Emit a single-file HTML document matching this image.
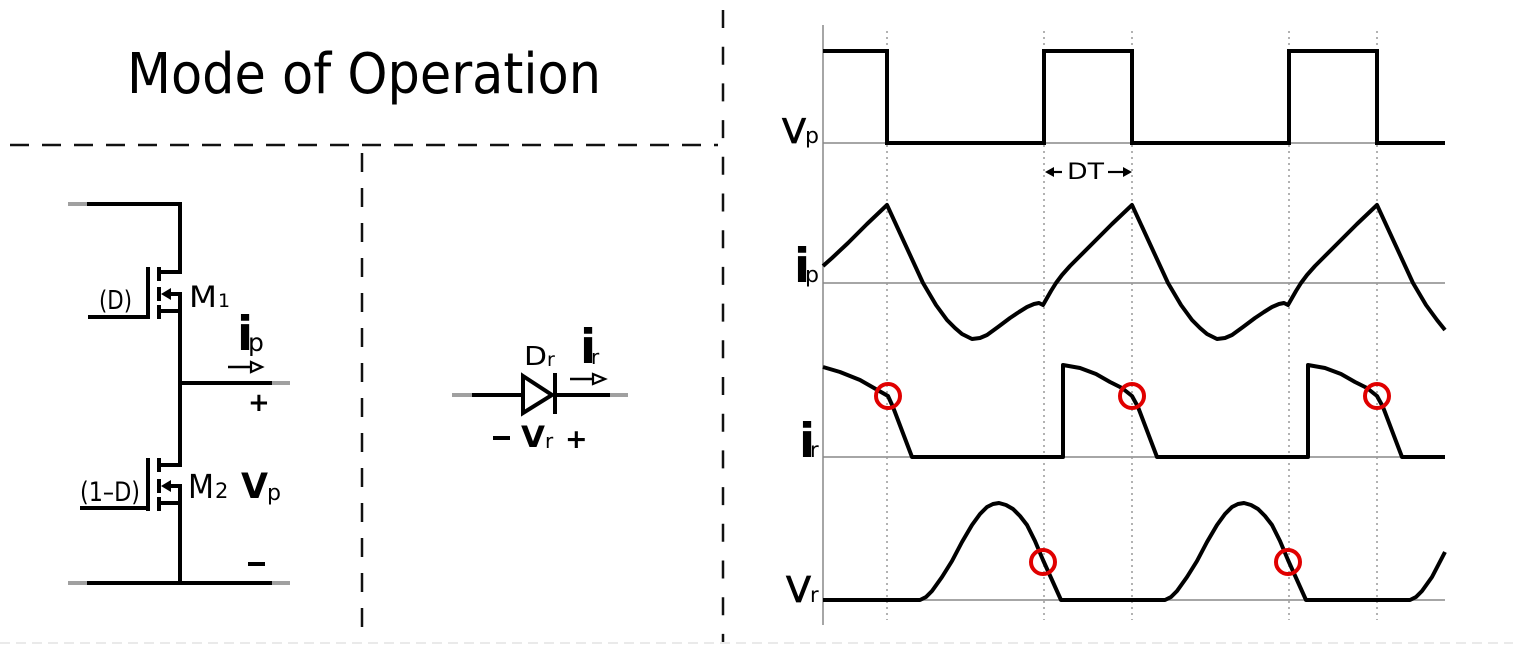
<!DOCTYPE html>
<html><head><meta charset="utf-8"><style>
html,body{margin:0;padding:0;background:#fff;}
svg{display:block;}
text{font-family:"DejaVu Sans","Liberation Sans",sans-serif;fill:#000;}
</style></head><body>
<svg width="1513" height="647" viewBox="0 0 1513 647" xmlns="http://www.w3.org/2000/svg">
<rect width="1513" height="647" fill="#fff"/>

<!-- Title -->
<text x="127" y="93" font-size="56" textLength="474" lengthAdjust="spacingAndGlyphs">Mode of Operation</text>

<!-- dashed separators -->
<line x1="10" y1="145" x2="718" y2="145" stroke="#111" stroke-width="2.5" stroke-dasharray="19 13"/>
<line x1="723" y1="10" x2="723" y2="642" stroke="#111" stroke-width="2.5" stroke-dasharray="18 18.7"/>
<line x1="362" y1="153" x2="362" y2="642" stroke="#111" stroke-width="2.5" stroke-dasharray="19 16"/>
<line x1="0" y1="643" x2="1513" y2="643" stroke="#e4e4e4" stroke-width="1.5" stroke-dasharray="10 6"/>

<!-- Circuit: MOSFETs -->
<g stroke="#000" stroke-width="4" fill="none" stroke-linecap="butt">
  <polyline points="87,204 180,204 180,272 159,272"/>
  <line x1="159" y1="267" x2="159" y2="281"/>
  <line x1="159" y1="287" x2="159" y2="301"/>
  <line x1="159" y1="305" x2="159" y2="319"/>
  <line x1="148" y1="267" x2="148" y2="319"/>
  <line x1="88" y1="317" x2="150" y2="317"/>
  <line x1="166" y1="294" x2="180" y2="294"/>
  <line x1="157" y1="311" x2="182" y2="311"/>
  <line x1="180" y1="292" x2="180" y2="467"/>
  <line x1="180" y1="465" x2="157" y2="465"/>
  <line x1="180" y1="383" x2="272" y2="383"/>
  <line x1="159" y1="458" x2="159" y2="472"/>
  <line x1="159" y1="479" x2="159" y2="493"/>
  <line x1="159" y1="497" x2="159" y2="511"/>
  <line x1="148" y1="458" x2="148" y2="511"/>
  <line x1="80" y1="508" x2="150" y2="508"/>
  <line x1="166" y1="486" x2="180" y2="486"/>
  <line x1="157" y1="503" x2="182" y2="503"/>
  <line x1="180" y1="484" x2="180" y2="583"/>
  <line x1="87" y1="583" x2="272" y2="583"/>
</g>
<polygon points="161,294 171,288 171,300" fill="#000"/>
<polygon points="161,486 171,480 171,492" fill="#000"/>
<g stroke="#a0a0a0" stroke-width="4">
  <line x1="68" y1="204" x2="87" y2="204"/>
  <line x1="272" y1="383" x2="290" y2="383"/>
  <line x1="68" y1="583" x2="87" y2="583"/>
  <line x1="272" y1="583" x2="290" y2="583"/>
  <line x1="452" y1="395" x2="472" y2="395"/>
  <line x1="610" y1="395" x2="628" y2="395"/>
</g>

<!-- circuit labels -->
<text x="99" y="309" font-size="26" textLength="33" lengthAdjust="spacingAndGlyphs">(D)</text>
<text x="189" y="307" font-size="29" textLength="28" lengthAdjust="spacingAndGlyphs">M</text>
<text x="218" y="307" font-size="19">1</text>
<text x="80" y="501" font-size="27" textLength="60" lengthAdjust="spacingAndGlyphs">(1–D)</text>
<text x="188" y="498" font-size="33" textLength="26" lengthAdjust="spacingAndGlyphs">M</text>
<text x="215" y="498" font-size="21">2</text>
<text x="241" y="498" font-size="35" font-weight="bold" textLength="27" lengthAdjust="spacingAndGlyphs">V</text>
<text x="267" y="500" font-size="22">p</text>

<text x="237" y="350" font-size="47" font-weight="bold">i</text>
<text x="248" y="351" font-size="25">p</text>
<line x1="228" y1="367" x2="251" y2="367" stroke="#000" stroke-width="2.5"/>
<polygon points="251,362 262,367 251,372" fill="#fff" stroke="#000" stroke-width="2.2"/>
<text x="248" y="411" font-size="26" font-weight="bold">+</text>
<rect x="248" y="562" width="17" height="4" fill="#000"/>

<!-- Diode -->
<g stroke="#000" stroke-width="4" fill="none">
  <line x1="472" y1="395" x2="523" y2="395"/>
  <polygon points="523,376 552,395 523,413" stroke-linejoin="miter"/>
  <line x1="555" y1="373" x2="555" y2="414"/>
  <line x1="555" y1="395" x2="610" y2="395"/>
</g>
<text x="524" y="365" font-size="26" textLength="23" lengthAdjust="spacingAndGlyphs">D</text>
<text x="547" y="366" font-size="19">r</text>
<text x="580" y="363" font-size="47" font-weight="bold">i</text>
<text x="591" y="364" font-size="20">r</text>
<line x1="570" y1="379" x2="593" y2="379" stroke="#000" stroke-width="2.5"/>
<polygon points="593,374 605,379 593,384" fill="#fff" stroke="#000" stroke-width="2.2"/>
<rect x="493" y="436" width="17" height="4" fill="#000"/>
<text x="521" y="447" font-size="29" font-weight="bold" textLength="24" lengthAdjust="spacingAndGlyphs">V</text>
<text x="545" y="448" font-size="20">r</text>
<text x="565" y="448" font-size="27" font-weight="bold">+</text>

<!-- Waveform axes -->
<g stroke="#888" stroke-width="1.5">
  <line x1="823" y1="25" x2="823" y2="625"/>
  <line x1="823" y1="143" x2="1445" y2="143"/>
  <line x1="823" y1="283" x2="1445" y2="283"/>
  <line x1="823" y1="457" x2="1445" y2="457"/>
  <line x1="823" y1="600" x2="1445" y2="600"/>
</g>
<g stroke="#999" stroke-width="1.5" stroke-dasharray="2 4">
  <line x1="887" y1="31" x2="887" y2="620"/>
  <line x1="1044" y1="31" x2="1044" y2="620"/>
  <line x1="1132" y1="31" x2="1132" y2="620"/>
  <line x1="1289" y1="31" x2="1289" y2="620"/>
  <line x1="1377" y1="31" x2="1377" y2="620"/>
</g>

<!-- Vp waveform -->
<path d="M823 51 H887 V143 H1044 V51 H1132 V143 H1289 V51 H1377 V143 H1445" fill="none" stroke="#000" stroke-width="4"/>

<!-- ip waveform -->
<polyline fill="none" stroke="#000" stroke-width="4" stroke-linejoin="round" points="
823,266 832,258 848,243 867,224 887,205
905,244 923,283 936,305 947,320 955,328 962,334 972,339 980,338 987,335 998,327 1010,318 1019,312 1027,307 1034,304 1039,303 1043,305 1047,298 1051,291 1056,283 1062,275 1070,266 1079,257 1093,243 1112,224 1132,205
1150,244 1168,283 1181,305 1192,320 1200,328 1207,334 1217,339 1225,338 1232,335 1243,327 1255,318 1264,312 1272,307 1279,304 1284,303 1288,305 1292,298 1296,291 1301,283 1307,275 1315,266 1324,257 1338,243 1357,224 1377,205
1395,244 1413,283 1426,305 1437,320 1445,330"/>

<!-- ir waveform -->
<polyline fill="none" stroke="#000" stroke-width="4" stroke-linejoin="round" points="
823,367 840,372 860,380 874,388 888,396 893,407 912,457 1063,457 1063,365 1080,368 1096,374 1110,382 1122,388 1132,396 1138,407 1157,457 1308,457 1308,365 1325,368 1341,374 1355,382 1367,388 1377,396 1383,407 1402,457 1445,457"/>

<!-- Vr waveform -->
<polyline fill="none" stroke="#000" stroke-width="4" stroke-linejoin="round" points="
823,600 920,600 926,597 932,591 942,577 952,561 962,542 972,525 980,514 987,507 993,504 999,503 1006,505 1013,509 1020,516 1027,525 1035,541 1043,560 1052,580 1061,600
1165,600 1171,597 1177,591 1187,577 1197,561 1207,542 1217,525 1225,514 1232,507 1238,504 1244,503 1251,505 1258,509 1265,516 1272,525 1280,541 1288,560 1297,580 1306,600
1410,600 1416,597 1422,591 1432,577 1445,552"/>

<!-- red circles -->
<g fill="none" stroke="#e00000" stroke-width="4">
  <circle cx="888" cy="396" r="12"/>
  <circle cx="1132" cy="396" r="12"/>
  <circle cx="1377" cy="396" r="12"/>
  <circle cx="1043" cy="562" r="12"/>
  <circle cx="1288" cy="562" r="12"/>
</g>

<!-- waveform labels -->
<text x="782" y="143" font-size="34" textLength="24" lengthAdjust="spacingAndGlyphs" stroke="#000" stroke-width="0.8">V</text>
<text x="805" y="143" font-size="22">p</text>
<text x="794" y="282" font-size="47" font-weight="bold">i</text>
<text x="805" y="282" font-size="22">p</text>
<text x="799" y="457" font-size="47" font-weight="bold">i</text>
<text x="810" y="457" font-size="21">r</text>
<text x="786" y="602" font-size="36" textLength="25" lengthAdjust="spacingAndGlyphs" stroke="#000" stroke-width="0.8">V</text>
<text x="810" y="602" font-size="21">r</text>

<!-- DT arrow -->
<line x1="1049" y1="172" x2="1062" y2="172" stroke="#000" stroke-width="2.2"/>
<polygon points="1045,172 1054,167 1054,177" fill="#000"/>
<text x="1067" y="179" font-size="22" textLength="37" lengthAdjust="spacingAndGlyphs">DT</text>
<line x1="1108" y1="172" x2="1124" y2="172" stroke="#000" stroke-width="2.2"/>
<polygon points="1132,172 1123,167 1123,177" fill="#000"/>
</svg>
</body></html>
